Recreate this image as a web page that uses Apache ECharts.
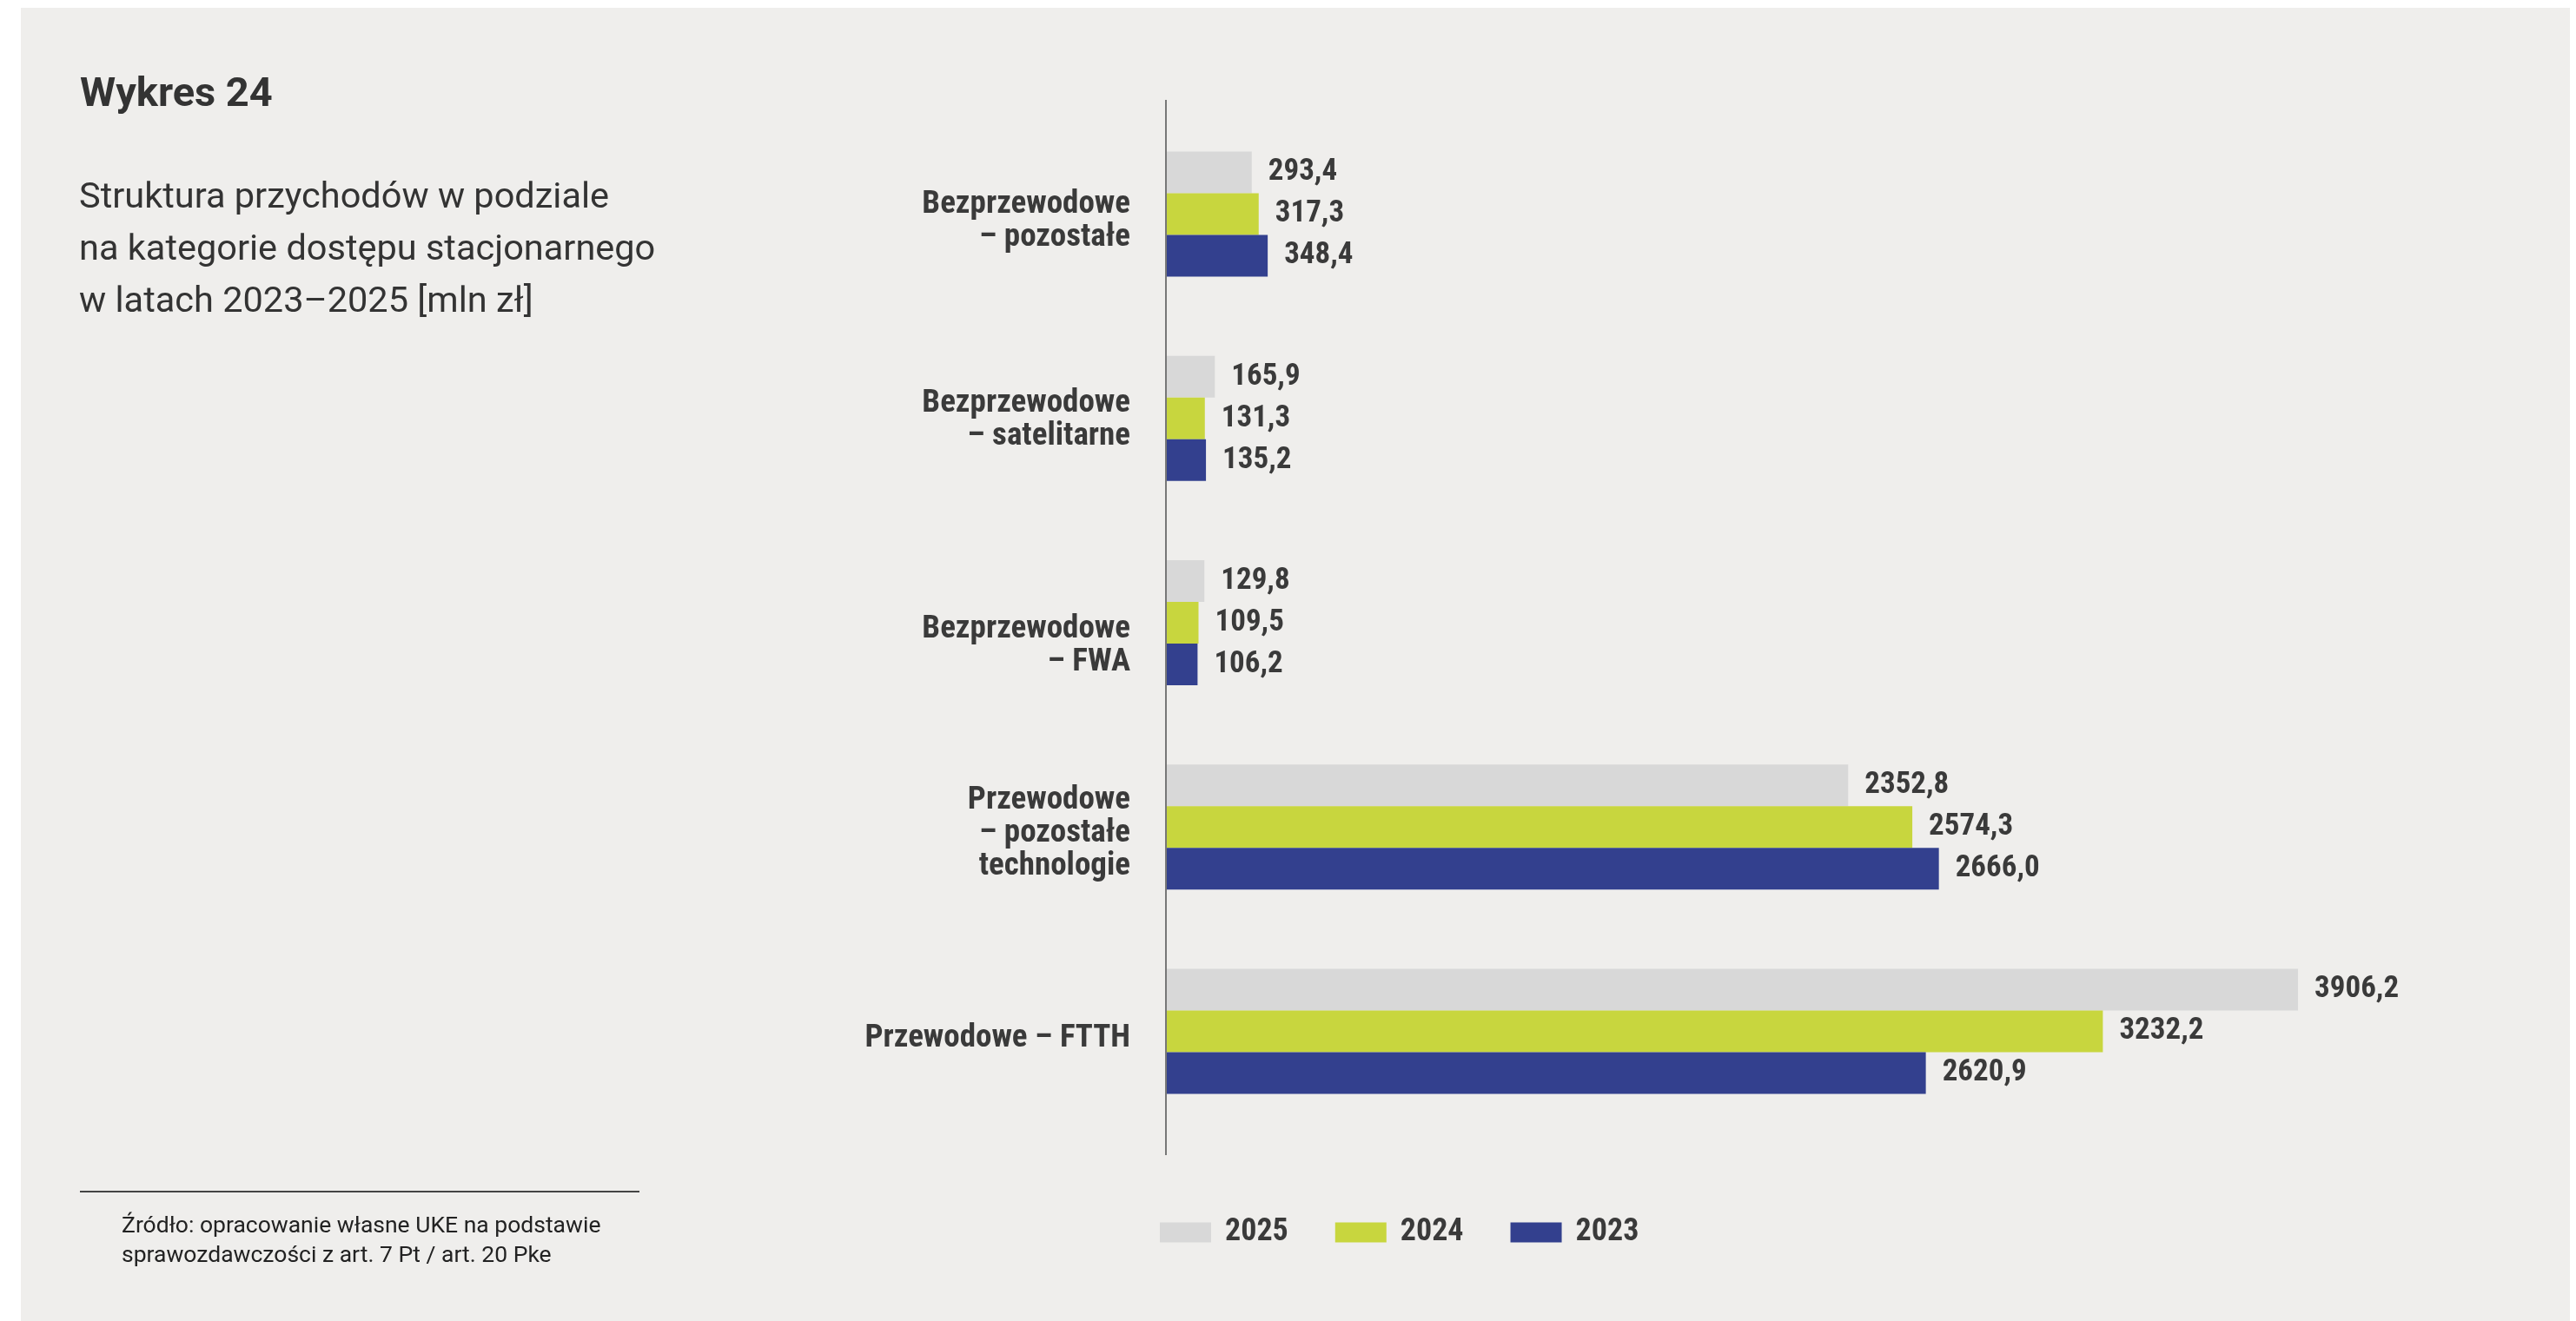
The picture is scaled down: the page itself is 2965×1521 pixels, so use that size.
<!DOCTYPE html>
<html>
<head>
<meta charset="utf-8">
<script src="https://cdn.jsdelivr.net/npm/echarts@6/dist/echarts.min.js"></script>
<style>
html, body { margin: 0; padding: 0; background: #fff; }
#paper { position: absolute; left: 24px; top: 9px; width: 2934px; height: 1512px; background: #efeeec; }
#chart { position: absolute; left: 0; top: 0; width: 2965px; height: 1521px; }
</style>
</head>
<body>
<div id="paper"></div>
<div id="chart"></div>
<script>
// dane z wykresu (mln zł)
var categories = [
    'Bezprzewodowe\n– pozostałe',
    'Bezprzewodowe\n– satelitarne',
    'Bezprzewodowe\n– FWA',
    'Przewodowe\n– pozostałe\ntechnologie',
    'Przewodowe – FTTH'
];
var years = ['2025', '2024', '2023'];
var values2025 = [293.4, 165.9, 129.8, 2352.8, 3906.2];
var values2024 = [317.3, 131.3, 109.5, 2574.3, 3232.2];
var values2023 = [348.4, 135.2, 106.2, 2666.0, 2620.9];

var colors = ['#d8d8d8', '#c8d63e', '#33408e'];
var textColor = '#3a3a3a';
var font = 'Roboto';
var condFont = '"Roboto Condensed", Roboto';
// przesunięcie etykiet kategorii w dół (px), jak w oryginale
var labelShift = [8, 2, 27, 8, 8];

function fmt(p) {
    return p.value.toFixed(1).replace('.', ',');
}

function catLabel(v, i) {
    var h = labelShift[i] * 2;
    var lines = v.split('\n').map(function (l) {
        return '{t|' + l + '}';
    }).join('\n');
    return '{s' + h + '| }\n' + lines;
}

var richStyles = {
    t: {
        fontFamily: condFont,
        fontSize: 37,
        fontWeight: 'bold',
        lineHeight: 38,
        color: textColor
    }
};
labelShift.forEach(function (s) {
    richStyles['s' + s * 2] = { fontSize: 1, lineHeight: s * 2 };
});

function barSeries(name, data, color) {
    return {
        name: name,
        type: 'bar',
        data: data,
        barWidth: 48,
        barGap: '0%',
        itemStyle: { color: color },
        label: {
            show: true,
            position: 'right',
            distance: 19,
            formatter: fmt,
            fontFamily: condFont,
            fontSize: 35,
            fontWeight: 'bold',
            color: textColor
        }
    };
}

var dom = document.getElementById('chart');
var myChart = echarts.init(dom);
var option = {
    animation: false,
    backgroundColor: 'transparent',
    grid: {
        left: 1343,
        top: 129,
        width: 1500,
        height: 1176
    },
    xAxis: {
        type: 'value',
        min: 0,
        max: 4500,
        show: false
    },
    yAxis: {
        type: 'category',
        data: categories,
        inverse: true,
        axisLine: { show: false },
        axisTick: { show: false },
        axisLabel: {
            margin: 42,
            formatter: catLabel,
            rich: richStyles
        }
    },
    legend: {
        data: years,
        left: 1335,
        top: 1399,
        padding: 0,
        icon: 'rect',
        itemWidth: 59,
        itemHeight: 23,
        itemGap: 54,
        textStyle: {
            fontFamily: condFont,
            fontSize: 36,
            fontWeight: 'bold',
            lineHeight: 40,
            color: textColor,
            padding: [0, 0, 0, 11]
        }
    },
    graphic: [
        {
            type: 'line',
            shape: { x1: 1342, y1: 115, x2: 1342, y2: 1330 },
            style: { stroke: '#777', lineWidth: 2 }
        },
        {
            type: 'text',
            x: 92, y: 110,
            style: {
                text: 'Wykres 24',
                fontFamily: font, fontSize: 47, fontWeight: 'bold',
                fill: '#333', verticalAlign: 'middle'
            }
        },
        {
            type: 'text',
            x: 91, y: 289,
            style: {
                text: 'Struktura przychodów w podziale\nna kategorie dostępu stacjonarnego\nw latach 2023–2025 [mln zł]',
                fontFamily: font, fontSize: 41.5, lineHeight: 60,
                fill: '#333', verticalAlign: 'middle'
            }
        },
        {
            type: 'line',
            shape: { x1: 92, y1: 1372, x2: 736, y2: 1372 },
            style: { stroke: '#444', lineWidth: 2 }
        },
        {
            type: 'text',
            x: 140, y: 1429,
            style: {
                text: 'Źródło: opracowanie własne UKE na podstawie\nsprawozdawczości z art. 7 Pt / art. 20 Pke',
                fontFamily: font, fontSize: 26.5, lineHeight: 34,
                fill: '#222', verticalAlign: 'middle'
            }
        }
    ],
    series: [
        barSeries(years[0], values2025, colors[0]),
        barSeries(years[1], values2024, colors[1]),
        barSeries(years[2], values2023, colors[2])
    ]
};
myChart.setOption(option);
</script>
</body>
</html>
